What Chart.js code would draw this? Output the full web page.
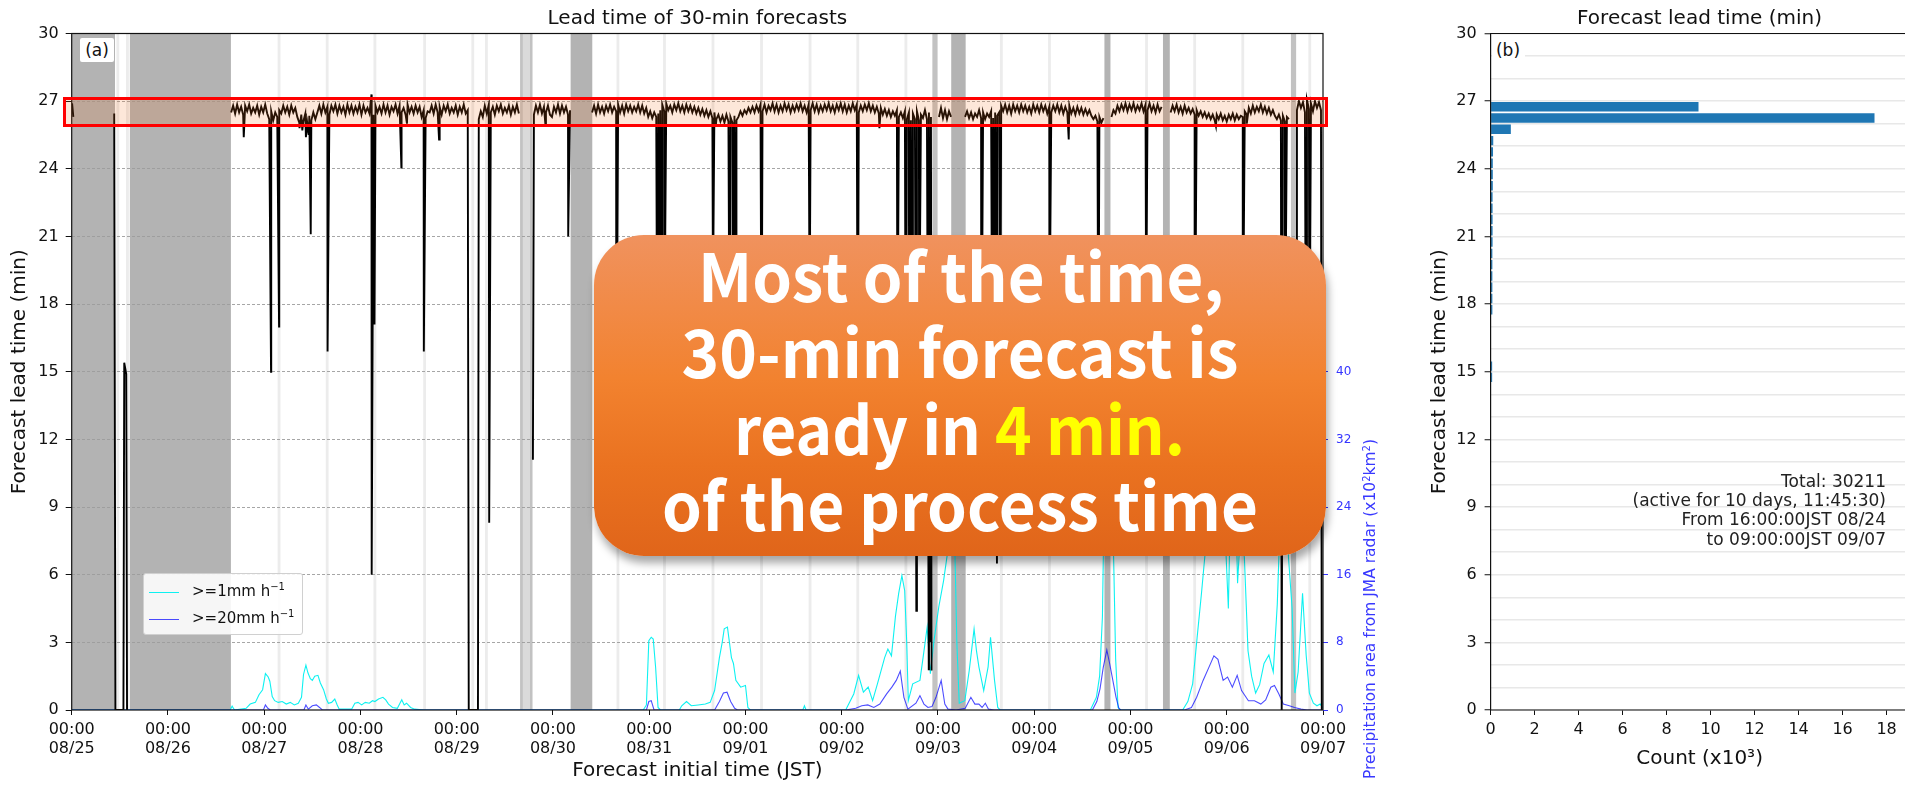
<!DOCTYPE html>
<html><head><meta charset="utf-8">
<script src="https://cdn.jsdelivr.net/npm/chart.js@4.4.1/dist/chart.umd.min.js"></script>
<style>
html,body{margin:0;padding:0;background:#fff;overflow:hidden;width:1905px;height:785px;}
body{position:relative;font-family:"DejaVu Sans",sans-serif;color:#111;}
canvas{position:absolute;top:0;}
#c1{left:0;}
#c2{left:1380px;}
.abs{position:absolute;white-space:nowrap;}
.ttl{font-size:20px;line-height:20px;transform:translate(-50%,-50%);}
.tag{background:#fff;font-size:17px;line-height:24px;text-align:center;border-radius:2px;}
#legend{left:143px;top:573px;width:160px;height:62px;background:rgba(255,255,255,0.88);border:1px solid #d0d0d0;border-radius:3px;box-sizing:border-box;font-size:15px;}
#legend .ln{position:absolute;left:5px;width:30px;height:0;border-top:1.2px solid;}
#legend .tx{position:absolute;left:48px;line-height:18px;}
#legend sup{font-size:10px;vertical-align:6px;line-height:0;}
#rtitle{left:1369.5px;top:609px;transform:translate(-50%,-50%) rotate(-90deg);font-size:15.5px;line-height:15px;color:#3838ff;}
#rtitle sup{font-size:10px;vertical-align:5px;line-height:0;}
#redbox{left:62.5px;top:96.7px;width:1265.7px;height:30px;border:3.6px solid #ff0000;background:rgba(243,110,30,0.17);box-sizing:border-box;}
#obox{left:594px;top:235px;width:732px;height:321px;border-radius:50px;background:linear-gradient(to bottom,#f0925e 0%,#f2822f 45%,#ea7220 72%,#e0651a 100%);box-shadow:2px 7px 9px rgba(0,0,0,0.35);}
#otext{left:0;top:0;}
#stats{right:19px;top:471.8px;font-size:17px;line-height:19.33px;text-align:right;color:#222;}
</style>
</head><body>
<canvas id="c1" width="1400" height="785"></canvas>
<canvas id="c2" width="600" height="785"></canvas>

<div class="abs ttl" style="left:697.4px;top:17.1px;">Lead time of 30-min forecasts</div>
<div class="abs ttl" style="left:1699.6px;top:17.1px;">Forecast lead time (min)</div>
<div class="abs tag" style="left:80px;top:38px;width:34px;height:24px;">(a)</div>
<div class="abs tag" style="left:1491.5px;top:38px;width:33px;height:24px;">(b)</div>
<div class="abs" id="redbox"></div>
<div class="abs" id="legend">
  <div class="ln" style="top:18px;border-color:rgba(0,240,240,0.95);"></div>
  <div class="tx" style="top:8px;">&gt;=1mm h<sup>−1</sup></div>
  <div class="ln" style="top:45px;border-color:rgba(0,0,255,0.7);"></div>
  <div class="tx" style="top:35px;">&gt;=20mm h<sup>−1</sup></div>
</div>
<div class="abs" id="rtitle">Precipitation area from JMA radar (x10<sup>2</sup>km<sup>2</sup>)</div>
<div class="abs" id="stats">Total: 30211<br>(active for 10 days, 11:45:30)<br>From 16:00:00JST 08/24<br>to 09:00:00JST 09/07</div>
<div class="abs" id="obox"></div>
<svg class="abs" id="otext" width="1905" height="785" style="pointer-events:none">
  <g font-family="'Noto Sans CJK JP','Noto Sans',sans-serif" font-weight="700" font-size="66" fill="#ffffff" text-anchor="middle">
    <text x="961" y="301.7" textLength="526" lengthAdjust="spacingAndGlyphs">Most of the time,</text>
    <text x="960" y="378.3" textLength="557" lengthAdjust="spacingAndGlyphs">30-min forecast is</text>
    <text x="959.4" y="455" textLength="451" lengthAdjust="spacingAndGlyphs">ready in <tspan fill="#ffff00">4 min.</tspan></text>
    <text x="960" y="530.5" textLength="596" lengthAdjust="spacingAndGlyphs">of the process time</text>
  </g>
</svg>

<script>
// ---------- axis labels ----------
const dayLabels = ['08/25','08/26','08/27','08/28','08/29','08/30','08/31','09/01','09/02','09/03','09/04','09/05','09/06','09/07'];
const hourLabel = '00:00';
const leadTicks = [0,3,6,9,12,15,18,21,24,27,30];
const rainTicks = [0,8,16,24,32,40];
const countTicks = [0,2,4,6,8,10,12,14,16,18];

// ---------- lead time (min), hours from 08/25 00:00 JST ----------
const LEAD_STEP_H = 0.5;
const leadSegStarts = [39.75, 101.5, 115.25, 129.75, 216.25, 222.75, 259.25, 274.0, 305.5];
const leadSegA = [26.5,26.8,26.45,26.85,26.5,26.75,26.4,26.8,26.55,26.85,26.45,26.7,26.5,26.8,26.4,26.75,26.5,26.85,26.45,
  26.2,26.55,26.15,26.5,26.3,
  26.6,26.45,26.8,26.5,26.75,26.4,26.8,26.5,26.7,
  26.3,26.05,26.4,26.1,26.45,26.0,26.35,26.15,26.5,26.2,
  26.5,26.8,26.45,26.85,26.5,26.75,26.4,26.8,26.55,26.85,26.45,26.8,26.5,26.75,26.4,26.85,26.5,26.8,26.45,26.75,26.5,26.85,26.4,26.8,26.5,26.7,
  26.45,27.3,
  26.4,26.8,26.5,26.75,26.45,26.85,26.5,26.8,26.4,26.75,26.55,26.85,26.45,26.8,26.5,26.7,26.4,26.85,26.5,26.75,26.45,26.8,26.5,26.75,
  26.3,26.6,26.25,26.55,
  26.5,26.8,26.45,26.85,26.5,26.75,26.4,26.8,26.55,26.85,26.45,26.7,26.5,26.8,26.4,26.75,26.5,26.85,26.45,26.6];
const leadSegB = [26.2,26.55,26.3,26.8,26.45,26.85,26.5,26.75,26.4,26.8,26.55,26.85,26.45,26.7,26.5,26.8,26.4,26.75,26.5,26.85,26.45];
const leadSegC = [26.4,26.8,26.5,26.85,26.45,26.75,26.5,26.8,26.4,26.3,26.75,26.5,26.85,26.45,26.8,26.5,26.75,26.4,26.6];
const leadSegD = [26.5,26.8,26.45,26.85,26.5,26.75,26.45,26.8,26.55,26.85,26.5,26.75,
  26.55,26.85,26.5,26.8,26.45,26.85,26.55,26.8,26.5,26.75,26.55,26.85,26.5,26.8,26.45,26.7,
  26.3,26.55,26.25,26.5,26.3,26.45,
  26.6,26.85,26.55,26.9,26.6,26.8,26.5,26.85,26.6,26.9,26.55,26.8,26.5,26.85,26.55,26.8,26.5,26.75,
  26.45,26.7,26.4,26.65,26.35,26.6,26.3,26.55,26.25,26.5,26.2,
  26.4,26.1,26.35,26.05,26.4,26.1,26.3,26.05,26.35,26.15,
  26.3,26.55,26.35,26.6,26.45,26.7,26.5,26.75,26.5,26.8,26.55,26.85,
  26.55,26.85,26.5,26.8,26.6,26.9,26.55,26.85,26.5,26.8,
  26.55,26.9,26.6,26.85,26.5,26.8,26.55,26.85,26.6,26.9,
  26.55,26.8,26.5,26.85,26.6,26.9,26.55,26.85,26.5,26.8,
  26.55,26.85,26.6,26.9,26.55,26.8,26.5,26.85,26.6,26.9,
  26.55,26.85,26.5,26.8,26.55,26.9,26.6,26.85,26.5,26.8,
  26.55,26.85,26.6,26.9,26.55,26.8,26.5,26.75,
  26.45,26.7,26.4,26.65,26.35,26.6,26.3,26.55,26.35,26.6,26.3,26.5,26.25,26.55,26.2,26.5,26.15,26.45,26.2,26.55,26.15,26.4,26.25,26.6,26.2,26.5,26.3];
const leadSegE = [26.3,26.7,26.25,26.6,26.2,26.55,26.3];
const leadSegF = [26.3,26.55,26.25,26.5,26.2,26.45,26.3,26.6,26.25,26.5,26.2,26.45,26.3,26.55,26.25,26.5,26.35,
  26.5,26.8,26.55,26.85,26.5,26.8,26.45,26.85,26.55,26.8,
  26.5,26.85,26.55,26.8,26.5,26.75,26.45,26.85,26.55,26.8,
  26.5,26.85,26.55,26.8,26.45,26.75,26.5,26.8,26.55,26.85,
  26.5,26.8,26.45,26.75,26.5,26.8,26.45,26.7,26.4,26.75,
  26.45,26.7,26.4,26.65,26.4,26.6,26.35,
  26.2,26.35,26.1,26.3,26.05,26.25];
const leadSegG = [26.3,26.6,26.45,26.8,26.55,26.85,26.6,26.9,26.55,26.85,26.6,26.9,26.55,26.8,26.6,26.9,26.55,26.85,26.6,26.9,26.55,26.8,26.5,26.85,26.55,26.75];
const leadSegH = [26.5,26.8,26.55,26.85,26.5,26.75,26.45,26.8,26.5,26.7,26.45,26.65,
  26.4,26.6,26.35,26.55,26.3,26.5,26.25,26.45,26.2,26.4,26.15,26.4,26.2,26.45,26.15,26.35,26.1,26.4,26.2,26.45,26.15,26.4,26.2,26.35,
  26.3,26.55,26.4,26.7,26.45,26.8,26.5,26.75,26.55,26.85,26.5,26.75,26.45,26.7,26.4,26.6,26.35,
  26.2,26.4,26.15,26.35,26.1,26.3,26.2];
const leadSegI = [26.6,27.0,26.7,26.95,26.5,27.05,26.65,26.9,26.55,27.0,26.7,26.95,26.6];
const leadEarlyHours  = [0.1, 0.4, 10.6, 10.9, 12.9, 13.1, 13.6, 13.8];
const leadEarlyValues = [26.9, 26.3, 26.45, 0, 0, 15.4, 14.9, 0];
const leadDropHours  = [42.9,49.7,51.7,56.8,57.5,58.4,59.1,59.6,63.8,74.8,75.5,82.2,83.6,87.8,91.6,99.0,101.3,104.1,115.0,118.1,123.8,135.8,146.1,146.6,147.2,147.8,159.9,160.6,164.1,164.9,165.7,172.0,184.0,196.0,201.4,205.9,208.0,208.8,209.6,210.6,211.3,213.7,214.0,214.4,226.8,229.6,230.2,230.7,231.5,243.8,248.6,256.0,267.9,280.0,285.3,292.0,293.0,301.7,302.5,305.4,307.8,308.6,311.7];
const leadDropValues = [25.4,15.0,17.0,25.8,25.7,25.4,25.5,21.1,15.9,6.0,17.1,24.05,26.0,15.9,25.3,0,0,8.3,11.1,26.0,21.0,12.0,9.0,14.0,10.5,16.5,18.5,25.9,11.5,16.0,9.5,13.0,17.5,12.5,25.8,14.5,10.0,13.5,11.0,4.4,15.0,1.8,3.0,1.75,12.0,10.5,14.0,6.5,11.0,16.0,25.3,13.5,17.0,12.5,25.9,15.0,26.0,0,14.0,11.0,9.0,13.0,0];
const leadBreakHours = [5, 25, 113, 127, 215.2, 221, 258.2, 272.9, 304.5];

// ---------- outages ----------
const outageSpans = [[0,10.8],[14.5,39.7],[124.4,129.8],[219.3,222.9],[257.5,259.0],[272.1,273.8]];
const partialOutageSpans = [[111.8,112.5],[114.2,114.9],[214.6,215.9],[304.0,305.3]];
const paleOutageSpans = [[112.5,114.2]];
const shortGapHours = [11.5,13.9,51.7,63.7,75.6,88.0,100.0,103.4,136.2,147.8,159.9,172.0,184.1,196.0,208.0,231.8,243.8,268.0,280.0,292.0,308.7];

// ---------- precipitation area (x10^2 km^2) ----------
const rain1Hours = [0,39.5,40.0,40.6,43.5,44.5,45.8,46.7,47.6,48.3,49.0,49.4,50.0,50.6,51.5,52.5,53.5,54.5,55.5,56.5,57.3,57.8,58.4,58.9,59.5,60.0,60.6,61.4,62.0,62.8,63.5,64.0,64.8,65.6,66.2,66.7,69.8,70.6,71.4,72.3,73.2,74.2,75.0,75.6,76.5,77.6,78.3,79.0,80.0,81.2,82.3,82.9,83.5,84.5,85.5,87.8,
  142.5,143.3,143.9,144.5,145.0,145.6,146.2,146.8,
  151.5,152.1,153.3,154.5,156.2,158.0,159.2,160.3,161.5,162.2,162.7,163.5,164.5,165.0,165.6,166.8,168.0,168.6,169.2,
  182.3,182.7,183.1,
  193.0,193.3,195.0,196.2,197.4,198.6,199.7,200.9,202.7,203.5,204.4,205.4,206.2,207.0,207.7,208.2,208.6,209.7,211.5,212.4,213.3,214.1,215.0,216.2,217.4,218.5,219.1,219.9,220.7,221.3,222.7,223.8,225.0,225.6,226.2,227.4,228.5,229.1,230.1,230.9,231.5,
  254.0,255.5,256.3,257.0,257.6,258.6,259.5,260.3,260.9,261.5,
  277.0,278.3,279.5,280.6,281.7,282.7,283.6,285.0,286.5,287.5,288.4,289.1,290.0,290.7,291.5,292.4,293.3,294.2,295.2,296.2,297.3,298.5,299.6,300.6,301.5,302.5,303.4,304.3,305.0,305.8,306.9,307.8,308.6,309.6,310.5,311.3,312];
const rain1Values = [0,0,0.45,0,0.2,0.7,0.9,1.8,2.4,4.3,3.9,3.4,1.6,1.1,0.9,1.0,0.7,0.9,0.6,0.8,1.5,4.2,5.3,4.4,3.7,3.5,4.0,4.1,3.2,2.4,1.3,0.8,0.9,1.3,0.6,0.1,0.1,0.8,0.9,0.6,0.9,0.8,1.1,1.0,1.3,1.5,1.2,0.7,0.3,0.2,1.2,0.6,0.8,0.3,0.1,0,
  0,0.6,8.2,8.6,8.4,5.0,0.3,0,
  0,0.5,1.0,0.5,0.6,0.7,0.9,2.3,6.2,8.0,9.6,9.8,6.2,5.5,3.5,2.7,2.9,0.3,0,
  0,0.5,0,
  0,0.3,1.9,4.1,2.1,2.7,1.1,3.1,6.2,7.2,6.4,11.1,13.8,15.9,14.1,8.0,1.1,3.1,3.5,6.6,9.8,4.3,8.2,12.2,15.3,19.0,30,26,8.0,0.8,1.1,4.7,9.6,7.0,5.1,2.3,5.1,8.6,3.5,0.3,0,
  0,1.5,4.0,11.0,30,35,25,6.0,0.3,0,
  0,1.0,3.1,8.5,13.8,19,30,38,32,22,12,28,30,15,22,18,7,4,2,3,5.5,6.5,4.5,12.5,25,30,18,12,2,4.5,13.8,6.5,2,0.8,0.5,0.7,0.2];
const rain20Hours = [0,47.8,48.3,48.9,49.5,57.9,58.4,59.0,60.0,61.0,61.8,62.5,143.3,143.9,144.5,145.2,160.3,161.5,162.5,163.4,164.3,165.3,166.0,
  193.0,195.5,197.0,198.5,200.0,201.5,203.2,204.5,205.6,206.6,207.5,208.5,210.5,211.5,212.5,213.5,214.5,215.5,216.8,217.7,218.5,220.5,222.8,224.2,225.2,226.2,227.0,227.8,228.6,230,
  254.5,255.6,256.4,257.2,258.1,258.8,259.6,260.4,261.1,261.6,
  277.5,279.2,280.5,282.1,283.6,284.8,285.8,287.1,288.2,289.4,290.6,291.7,293.4,294.9,296.5,297.7,299.0,299.9,301.0,302.1,303.6,304.9,306.5,308,312];
const rain20Values = [0,0,0.6,0.2,0,0,0.6,0.1,0.5,0.6,0.3,0,0,1.0,1.1,0,0,1.0,2.0,2.1,1.0,0.2,0,
  0,0.2,0.5,0.6,0.3,0.7,1.9,2.7,3.5,4.6,1.5,0.1,0.8,1.7,0.7,0.3,0.4,1.5,3.5,0.7,0.1,0,0.2,1.5,0.7,0.7,0.3,0.8,0.1,0,
  0,1.0,2.5,5.0,7.1,5.5,3.5,1.5,0.2,0,
  0,0.3,1.5,3.5,5.1,6.4,6.0,3.5,3.9,2.7,4.1,2.3,1.1,1.1,0.7,1.2,2.7,2.9,1.9,0.7,0.5,0.3,0.1,0,0];

// ---------- histogram (count x10^3) ----------
const histBinCenters = [14.75,15.25,15.75,16.25,16.75,17.25,17.75,18.25,18.75,19.25,19.75,20.25,20.75,21.25,21.75,22.25,22.75,23.25,23.75,24.25,24.75,25.25,25.75,26.25,26.75];
const histCounts     = [0.07,0.07,0,0,0,0,0.08,0.08,0.08,0.08,0.08,0.08,0.09,0.09,0.09,0.09,0.09,0.1,0.1,0.1,0.11,0.12,0.92,17.45,9.45];

// ---------- build data ----------
const leadSegs = [leadSegA,leadSegB,leadSegC,leadSegD,leadSegE,leadSegF,leadSegG,leadSegH,leadSegI];
let leadPts = [];
leadEarlyHours.forEach((h,i)=>leadPts.push({x:h,y:leadEarlyValues[i]}));
leadSegs.forEach((seg,s)=>seg.forEach((v,i)=>leadPts.push({x:leadSegStarts[s]+i*LEAD_STEP_H,y:v})));
leadDropHours.forEach((h,i)=>leadPts.push({x:h,y:leadDropValues[i]}));
leadBreakHours.forEach(h=>leadPts.push({x:h,y:null}));
leadPts.sort((a,b)=>a.x-b.x);
const rain1Pts = rain1Hours.map((h,i)=>({x:h,y:rain1Values[i]}));
const rain20Pts = rain20Hours.map((h,i)=>({x:h,y:rain20Values[i]}));

Chart.defaults.font.family = "'DejaVu Sans', sans-serif";
Chart.defaults.color = '#111';

const panelA = {
  id:'panelA',
  beforeDraw(chart){
    const {ctx, chartArea:a, scales:{x}} = chart;
    ctx.save();
    ctx.beginPath(); ctx.rect(a.left,a.top,a.right-a.left,a.bottom-a.top); ctx.clip();
    const span = (s,e,col)=>{const p1=x.getPixelForValue(s),p2=x.getPixelForValue(e);ctx.fillStyle=col;ctx.fillRect(p1,a.top,p2-p1,a.bottom-a.top);};
    shortGapHours.forEach(h=>span(h-0.35,h+0.35,'#ececec'));
    paleOutageSpans.forEach(([s,e])=>span(s,e,'#dadada'));
    partialOutageSpans.forEach(([s,e])=>span(s,e,'#c2c2c2'));
    outageSpans.forEach(([s,e])=>span(s,e,'#b3b3b3'));
    ctx.restore();
  },
  afterDatasetsDraw(chart){
    const {ctx, chartArea:a} = chart;
    ctx.save(); ctx.strokeStyle='#111'; ctx.lineWidth=1.2;
    ctx.strokeRect(a.left,a.top,a.right-a.left,a.bottom-a.top);
    ctx.restore();
  }
};

new Chart(document.getElementById('c1'), {
  type:'line',
  data:{datasets:[
    {data:leadPts, borderColor:'#000', borderWidth:1.9, pointRadius:0, spanGaps:false, tension:0, yAxisID:'y'},
    {data:rain20Pts, borderColor:'rgba(0,0,255,0.7)', borderWidth:1.1, pointRadius:0, tension:0, yAxisID:'y2'},
    {data:rain1Pts, borderColor:'rgba(0,240,240,0.95)', borderWidth:1.1, pointRadius:0, tension:0, yAxisID:'y2'}
  ]},
  options:{
    responsive:false, animation:false, events:[],
    layout:{padding:{top:33.5,left:0,right:0,bottom:0}},
    plugins:{legend:{display:false}, tooltip:{enabled:false}, title:{display:false}},
    scales:{
      x:{type:'linear', min:0, max:312,
        afterBuildTicks:s=>{s.ticks=dayLabels.map((_,i)=>({value:i*24}));},
        afterFit:s=>{s.height=75;},
        grid:{drawOnChartArea:false, color:'#111', tickLength:5, tickWidth:1},
        border:{display:false},
        ticks:{font:{size:16}, color:'#111', padding:5, maxRotation:0, autoSkip:false,
          callback:(v,i)=>[hourLabel, dayLabels[i]]},
        title:{display:true, text:'Forecast initial time (JST)', font:{size:20}, color:'#111', padding:{top:0,bottom:2}}
      },
      y:{type:'linear', position:'left', min:0, max:30,
        afterBuildTicks:s=>{s.ticks=leadTicks.map(v=>({value:v}));},
        afterFit:s=>{s.width=71.7;},
        grid:{color:c=>(c.tick && (c.tick.value===0||c.tick.value===30))?'rgba(0,0,0,0)':'#9c9c9c', lineWidth:0.9, tickLength:6, tickColor:'#111', tickWidth:1, tickBorderDash:[]},
        border:{display:false, dash:[3,2]},
        ticks:{font:{size:16}, color:'#111', padding:7},
        title:{display:true, text:'Forecast lead time (min)', font:{size:20}, color:'#111', padding:{top:8,bottom:0}}
      },
      y2:{type:'linear', position:'right', min:0, max:80,
        afterBuildTicks:s=>{s.ticks=rainTicks.map(v=>({value:v}));},
        afterFit:s=>{s.width=77;},
        grid:{drawOnChartArea:false, color:'#3535ff', tickLength:5, tickWidth:1},
        border:{display:false},
        ticks:{font:{size:12}, color:'#3535ff', padding:8}
      }
    }
  },
  plugins:[panelA]
});

const panelB = {
  id:'panelB',
  afterDatasetsDraw(chart){
    const {ctx, chartArea:a, width} = chart;
    ctx.save(); ctx.strokeStyle='#111'; ctx.lineWidth=1.2;
    ctx.beginPath();
    ctx.moveTo(width,a.top); ctx.lineTo(a.left,a.top); ctx.lineTo(a.left,a.bottom); ctx.lineTo(width,a.bottom);
    ctx.stroke(); ctx.restore();
  }
};

new Chart(document.getElementById('c2'), {
  type:'bar',
  data:{datasets:[{data:histBinCenters.map((c,i)=>({x:histCounts[i], y:c})), backgroundColor:'#1f77b4', borderWidth:0, barPercentage:0.84, categoryPercentage:1}]},
  options:{
    indexAxis:'y', responsive:false, animation:false, events:[],
    layout:{padding:{top:33.5,left:0,right:71.4,bottom:0}},
    plugins:{legend:{display:false}, tooltip:{enabled:false}, title:{display:false}},
    scales:{
      x:{type:'linear', min:0, max:19, offset:false,
        afterBuildTicks:s=>{s.ticks=countTicks.map(v=>({value:v}));},
        afterFit:s=>{s.height=75;},
        grid:{drawOnChartArea:false, offset:false, color:'#111', tickLength:5, tickWidth:1},
        border:{display:false},
        ticks:{font:{size:16}, color:'#111', padding:5, maxRotation:0, autoSkip:false},
        title:{display:true, text:'Count (x10³)', font:{size:20}, color:'#111', padding:{top:0,bottom:14}}
      },
      y:{type:'linear', min:0, max:30, offset:false,
        afterBuildTicks:s=>{const t=[];for(let v=0;v<=30;v++)t.push({value:v});s.ticks=t;},
        afterFit:s=>{s.width=110.6;},
        grid:{offset:false, color:'#e8e8e8', lineWidth:1.5, tickLength:6, tickWidth:1,
          tickColor:c=>(c.tick && leadTicks.includes(c.tick.value))?'#111':'rgba(0,0,0,0)'},
        border:{display:false},
        ticks:{font:{size:16}, color:'#111', padding:8, autoSkip:false,
          callback:v=>leadTicks.includes(v)?String(v):''},
        title:{display:true, text:'Forecast lead time (min)', font:{size:20}, color:'#111', padding:{top:48,bottom:0}}
      }
    }
  },
  plugins:[panelB]
});
</script>
</body></html>
